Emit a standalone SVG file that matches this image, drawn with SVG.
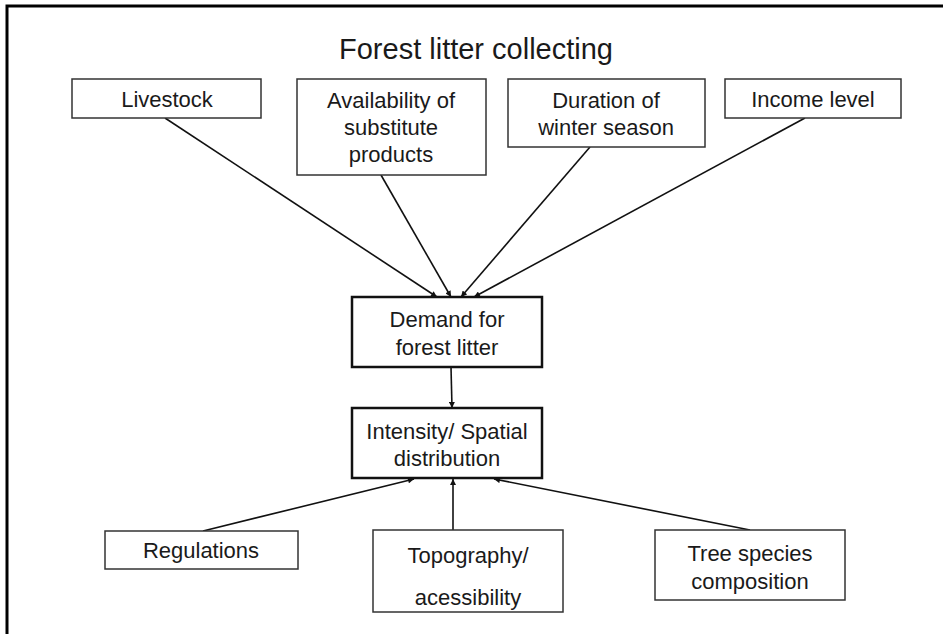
<svg xmlns="http://www.w3.org/2000/svg" width="943" height="634" viewBox="0 0 943 634">
<style>
text{font-family:"Liberation Sans",Arial,sans-serif;fill:#1a1a1a;text-anchor:middle}
.t{font-size:22px}
.box{fill:#fff;stroke:#333;stroke-width:1.5}
.bold{fill:#fff;stroke:#111;stroke-width:2.5}
.c{stroke:#111;stroke-width:1.6;fill:none;marker-end:url(#ah)}
</style>
<defs>
<marker id="ah" viewBox="0 0 10 10" refX="10" refY="5" markerWidth="7" markerHeight="6" orient="auto" markerUnits="userSpaceOnUse">
<path d="M0,0 L10,5 L0,10 z" fill="#111"/>
</marker>
</defs>
<rect width="943" height="634" fill="#fff"/>
<path d="M7,634 V6 H943" fill="none" stroke="#000" stroke-width="3"/>
<text x="476" y="59" style="font-size:29px">Forest litter collecting</text>
<g id="connectors">
<line class="c" x1="165" y1="118" x2="437" y2="297"/>
<line class="c" x1="381" y1="175" x2="451" y2="297"/>
<line class="c" x1="590" y1="147" x2="461" y2="297"/>
<line class="c" x1="805" y1="118" x2="474" y2="297"/>
<line class="c" x1="451" y1="367" x2="452" y2="408"/>
<line class="c" x1="203" y1="531" x2="414" y2="479"/>
<line class="c" x1="453" y1="530" x2="453" y2="479"/>
<line class="c" x1="750" y1="530" x2="494" y2="479"/>
</g>
<g id="livestock"><rect class="box" x="72" y="79" width="189" height="39"/><text class="t" x="167" y="107">Livestock</text></g>
<g id="availability"><rect class="box" x="297" y="79" width="189" height="96"/><text class="t" x="391" y="108">Availability of</text><text class="t" x="391" y="135">substitute</text><text class="t" x="391" y="162">products</text></g>
<g id="duration"><rect class="box" x="508" y="79" width="197" height="68"/><text class="t" x="606" y="108">Duration of</text><text class="t" x="606" y="135">winter season</text></g>
<g id="income"><rect class="box" x="725" y="79" width="176" height="39"/><text class="t" x="813" y="107">Income level</text></g>
<g id="demand"><rect class="bold" x="352" y="297" width="190" height="70"/><text class="t" x="447" y="327">Demand for</text><text class="t" x="447" y="355">forest litter</text></g>
<g id="intensity"><rect class="bold" x="352" y="408" width="190" height="70"/><text class="t" x="447" y="439">Intensity/ Spatial</text><text class="t" x="447" y="466">distribution</text></g>
<g id="regulations"><rect class="box" x="105" y="531" width="193" height="38"/><text class="t" x="201" y="558">Regulations</text></g>
<g id="topography"><rect class="box" x="373" y="530" width="190" height="82"/><text class="t" x="468" y="563">Topography/</text><text class="t" x="468" y="605">acessibility</text></g>
<g id="tree"><rect class="box" x="655" y="530" width="190" height="70"/><text class="t" x="750" y="561">Tree species</text><text class="t" x="750" y="589">composition</text></g>
</svg>
